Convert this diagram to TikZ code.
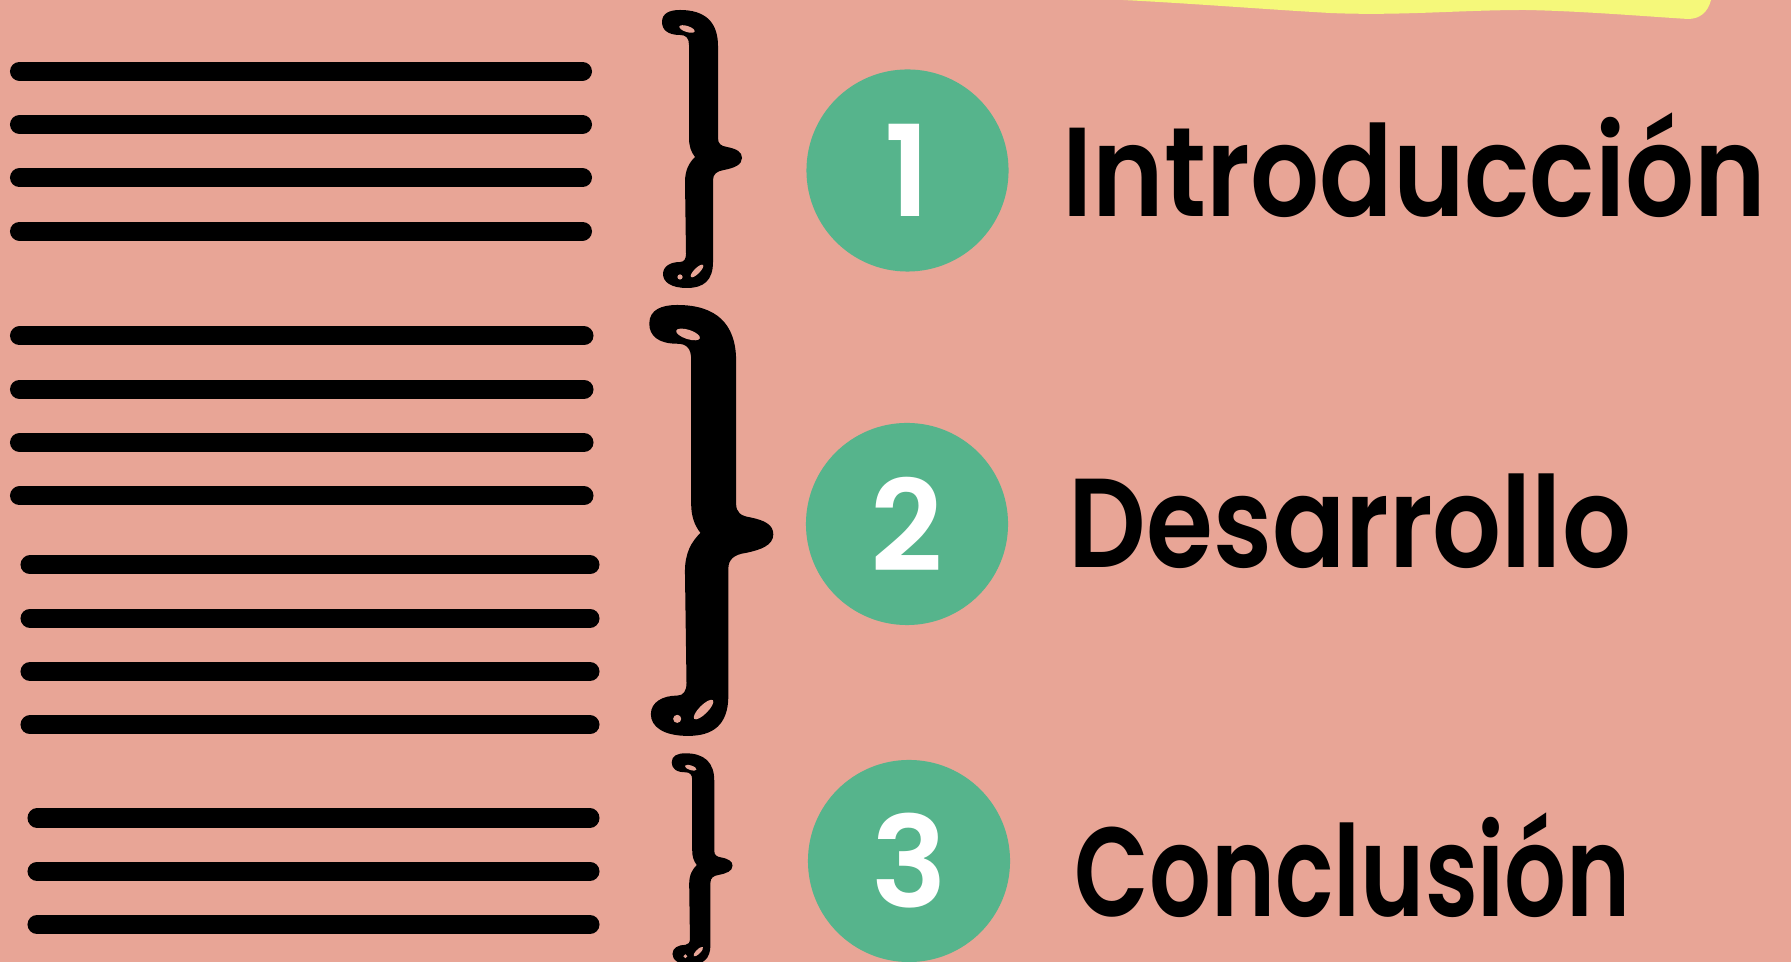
\documentclass[tikz,border=0pt]{standalone}
\usepackage{fontspec}
\setmainfont{Poppins}
\newfontfamily\headfont{Poppins SemiBold}
\definecolor{slidepink}{HTML}{E8A596}
\definecolor{badgegreen}{HTML}{56B48C}
\definecolor{markyellow}{HTML}{F5F87A}

\tikzset{
  curly/.pic={
    \fill[black] (0,12) .. controls (0,3) and (8,0) .. (18,0)
      .. controls (43,0) and (56,12) .. (56,36) -- (56,128)
      .. controls (56,134) and (59,136) .. (65,137)
      .. controls (75,139) and (80,142) .. (80,148)
      .. controls (80,155) and (72,158) .. (62,160)
      .. controls (55,161) and (51,164) .. (51,170) -- (51,252)
      .. controls (51,271) and (41,278) .. (25,278)
      .. controls (9,278) and (1,272) .. (1,264)
      .. controls (1,256) and (9,252) .. (18,252)
      .. controls (22,252) and (24,249) .. (24,244) -- (23,172)
      .. controls (23,160) and (27,153) .. (33,147)
      .. controls (29,142) and (27,136) .. (27,128) -- (27,35)
      .. controls (27,28) and (24,25) .. (18,25)
      .. controls (6,25) and (0,20) .. (0,12) -- cycle;
    % shine marks
    \fill[slidepink, rotate around={-18:(25,19)}] (25,19) ellipse [x radius=8, y radius=3];
    \fill[slidepink] (18,267) circle [radius=2.6];
    \fill[slidepink, rotate around={45:(35,261)}] (35,261) ellipse [x radius=8.5, y radius=2.8];
  }
}

\begin{document}
\begin{tikzpicture}[x=0.01cm, y=-0.01cm,
  bar/.style={line width=0.19cm, line cap=round},
  badge/.style={circle, fill=badgegreen, minimum size=2.02cm, inner sep=0pt,
    text=white, font=\headfont\fontsize{36}{36}\selectfont},
  heading/.style={anchor=base west, inner sep=0pt,
    font=\headfont\fontsize{36}{36}\selectfont}
]
\fill[slidepink] (0,0) rectangle (1791,962);
\useasboundingbox (0,0) rectangle (1791,962);

% highlighter strip
\fill[markyellow] (1123,0) .. controls (1200,4) and (1260,9) .. (1330,13)
  .. controls (1400,16) and (1460,10) .. (1525,10)
  .. controls (1580,11) and (1640,16) .. (1688,19)
  .. controls (1700,19) and (1708,12) .. (1711,0) -- cycle;

% text lines
\foreach \y in {71.2,124.5,177.8,231.1}
  \draw[bar] (19.5,\y) -- (582.5,\y);
\foreach \y in {336,389.3,442.6,496}
  \draw[bar] (19.5,\y) -- (584,\y);
\foreach \y in {565,618.3,671.6,724.9}
  \draw[bar] (30,\y) -- (590,\y);
\foreach \y in {818,871.3,924.6}
  \draw[bar] (37,\y) -- (590,\y);

% braces
\pic at (662,10) {curly};
\pic[scale=1.55] at (649.3,305) {curly};
\pic[scale=0.76] at (671.7,753.3) {curly};

% numbered badges
\node[badge] (one) at (907.5,170.5) {1};
\node[badge] (two) at (907,524) {2};
\node[badge] (three) at (909,861) {3};

% section names
\node[heading] (intro) at (1062,217) {\resizebox{7.03cm}{\height}{Introducción}};
\node[heading] (dev) at (1068,568) {\resizebox{5.62cm}{\height}{Desarrollo}};
\node[heading] (concl) at (1074,917) {\resizebox{5.56cm}{\height}{Conclusión}};
\end{tikzpicture}
\end{document}
